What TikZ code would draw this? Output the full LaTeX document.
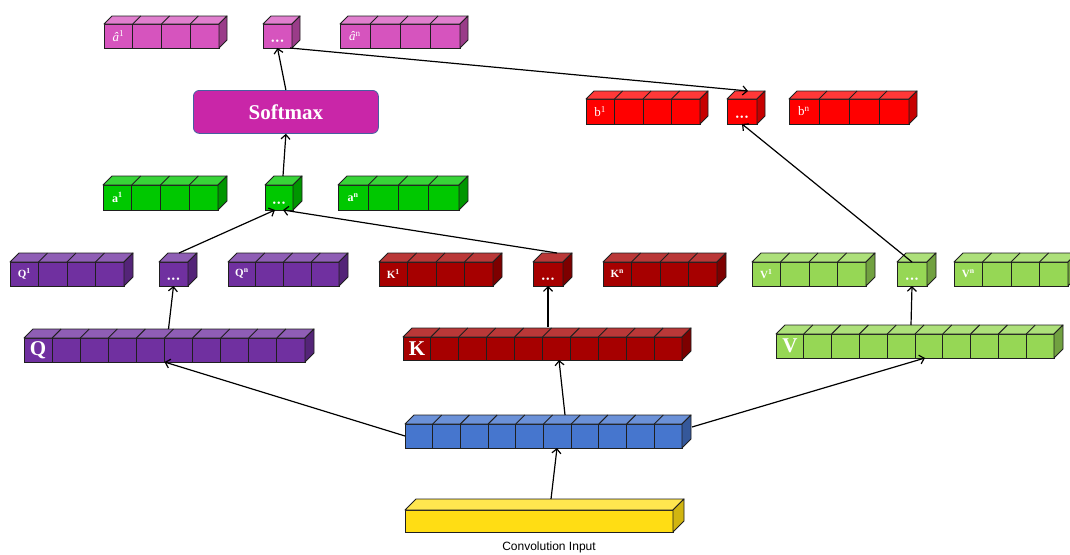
\documentclass[tikz,border=0pt]{standalone}
\usepackage{fontspec}
\setmainfont{Liberation Serif}
\newfontfamily\capsans{Liberation Sans}
\usetikzlibrary{arrows.meta,calc}

\definecolor{magF}{RGB}{214,84,190}
\colorlet{magT}{magF!75!white}
\colorlet{magS}{magF!72!black}
\definecolor{rdF}{RGB}{255,0,0}
\colorlet{rdT}{rdF!78!white}
\colorlet{rdS}{rdF!78!black}
\definecolor{grnF}{RGB}{0,200,0}
\colorlet{grnT}{grnF!78!white}
\colorlet{grnS}{grnF!75!black}
\definecolor{purF}{RGB}{112,48,160}
\colorlet{purT}{purF!78!white}
\colorlet{purS}{purF!75!black}
\definecolor{dkrF}{RGB}{166,0,0}
\colorlet{dkrT}{dkrF!78!white}
\colorlet{dkrS}{dkrF!75!black}
\definecolor{lgrF}{RGB}{150,215,85}
\colorlet{lgrT}{lgrF!78!white}
\colorlet{lgrS}{lgrF!75!black}
\definecolor{bluF}{RGB}{70,118,206}
\colorlet{bluT}{bluF!80!white}
\colorlet{bluS}{bluF!75!black}
\definecolor{yelF}{RGB}{255,221,20}
\colorlet{yelT}{yelF!75!white}
\colorlet{yelS}{yelF!82!black}
\definecolor{softF}{RGB}{201,38,168}
\definecolor{softB}{RGB}{70,95,160}

\tikzset{
  cubefront/.style={draw=black!88, line width=0.95pt, inner sep=0pt, outer sep=0pt, rectangle},
  cubeedge/.style={draw=black!88, line width=0.95pt, line join=round},
  cubelabel/.style={text=white, inner sep=0pt},
  dotlbl/.style={text=white, inner sep=0pt, font=\fontsize{10}{10}\selectfont},
  softbox/.style={draw=softB, line width=0.8pt, fill=softF, rounded corners=6pt, inner sep=0pt, text=white, font=\fontsize{21}{24}\selectfont\bfseries},
  conn/.style={draw=black, line width=1.2pt, -{Straight Barb[length=4.5pt,width=9pt]}},
  caption/.style={inner sep=0pt, font=\capsans\fontsize{12}{14}\selectfont}
}

\newcommand\threedots{\textbullet\hspace{1.2pt}\textbullet\hspace{1.2pt}\textbullet}

% name, x, ytop, width, height, ncells, depth, colour prefix, label
\newcommand\cubebar[9]{%
  \node[cubefront, fill=#8F, minimum width=#4pt, minimum height=#5pt, anchor=north west] (#1) at (#2,#3) {};
  \draw[cubeedge, fill=#8T] (#1.north west) -- ++(#7,-#7) -- ++(#4,0) -- (#1.north east) -- cycle;
  \draw[cubeedge, fill=#8S] (#1.north east) -- ++(#7,-#7) -- ++(0,#5) -- (#1.south east) -- cycle;
  \ifnum#6>1
    \pgfmathsetmacro\cbw{#4/#6}%
    \pgfmathtruncatemacro\cbn{#6-1}%
    \foreach \i in {1,...,\cbn}{%
      \pgfmathsetmacro\cbx{\i*\cbw}%
      \draw[cubeedge] ([xshift=\cbx pt]#1.north west) -- ([xshift=\cbx pt]#1.south west);
      \draw[cubeedge] ([xshift=\cbx pt]#1.north west) -- ++(#7,-#7);
    }%
  \fi
  \pgfmathsetmacro\cbh{#4/#6/2}%
  \node[cubelabel] at ([xshift=\cbh pt]#1.west) {#9};
}

\begin{document}
\begin{tikzpicture}[x=1pt,y=-1pt]
\useasboundingbox (0,0) rectangle (1070,554);

% magenta row
\cubebar{ah1}{104}{24}{115}{24}{4}{8}{mag}{\fontsize{13}{13}\selectfont\textit{â}\textsuperscript{1}}
\cubebar{md}{263}{24}{29}{24}{1}{8}{mag}{}
\cubebar{ahn}{340}{24}{120}{24}{4}{8}{mag}{\fontsize{13}{13}\selectfont\textit{â}\textsuperscript{n}}
\node[dotlbl] at ([yshift=6pt]md.south) {\threedots};

% softmax
\node[softbox, minimum width=185pt, minimum height=43pt, anchor=north west] (sm) at (193,90) {Softmax};

% red row
\cubebar{b1}{586}{99}{114}{25}{4}{8}{rd}{\fontsize{13}{13}\selectfont b\textsuperscript{1}}
\cubebar{rd}{727}{99}{30}{25}{1}{8}{rd}{}
\cubebar{bn}{789}{99}{120}{25}{4}{8}{rd}{\fontsize{13}{13}\selectfont b\textsuperscript{n}}
\node[dotlbl] at ([yshift=6pt]rd.south) {\threedots};

% green row
\cubebar{a1}{103}{185}{115}{25}{4}{9}{grn}{\fontsize{12}{12}\selectfont\bfseries a\textsuperscript{1}}
\cubebar{gd}{265}{185}{28}{25}{1}{9}{grn}{}
\cubebar{an}{338}{185}{121}{25}{4}{9}{grn}{\fontsize{12}{12}\selectfont\bfseries a\textsuperscript{n}}
\node[dotlbl] at ([yshift=6pt]gd.south) {\threedots};

% Q small
\cubebar{q1}{10}{262}{114}{24}{4}{9}{pur}{\fontsize{11}{11}\selectfont\bfseries Q\textsuperscript{1}}
\cubebar{qd}{159}{262}{29}{24}{1}{9}{pur}{}
\cubebar{qn}{228}{262}{111}{24}{4}{9}{pur}{\fontsize{11}{11}\selectfont\bfseries Q\textsuperscript{n}}
\node[dotlbl] at ([yshift=6pt]qd.south) {\threedots};

% K small
\cubebar{k1}{379}{262}{114}{24}{4}{9}{dkr}{\fontsize{11}{11}\selectfont\bfseries K\textsuperscript{1}}
\cubebar{kd}{533}{262}{30}{24}{1}{9}{dkr}{}
\cubebar{kn}{603}{262}{114}{24}{4}{9}{dkr}{\fontsize{11}{11}\selectfont\bfseries K\textsuperscript{n}}
\node[dotlbl] at ([yshift=6pt]kd.south) {\threedots};

% V small
\cubebar{v1}{752}{262}{114}{24}{4}{9}{lgr}{\fontsize{11}{11}\selectfont\bfseries V\textsuperscript{1}}
\cubebar{vd}{897}{262}{30}{24}{1}{9}{lgr}{}
\cubebar{vn}{954}{262}{114}{24}{4}{9}{lgr}{\fontsize{11}{11}\selectfont\bfseries V\textsuperscript{n}}
\node[dotlbl] at ([yshift=6pt]vd.south) {\threedots};

% big bars
\cubebar{Q}{24}{338}{281}{24}{10}{9}{pur}{\fontsize{21}{21}\selectfont\bfseries Q}
\cubebar{K}{403}{337}{279}{23}{10}{9}{dkr}{\fontsize{21}{21}\selectfont\bfseries K}
\cubebar{V}{776}{334}{278}{24}{10}{9}{lgr}{\fontsize{21}{21}\selectfont\bfseries V}

% embedding and input
\cubebar{emb}{405}{424}{277}{24}{10}{9}{blu}{}
\cubebar{inp}{405}{510}{268}{22}{1}{11}{yel}{}
\node[caption] (cap) at (549,547) {Convolution Input};

% connectors
\draw[conn] ([xshift=12pt,yshift=11pt]inp.north) -- ([xshift=13.5pt]emb.south);
\draw[conn] (emb.west) -- (Q.south);
\draw[conn] ([xshift=21.5pt,yshift=9pt]emb.north) -- ([xshift=16.5pt]K.south);
\draw[conn] ([xshift=10pt,yshift=9pt]emb.east) -- ([xshift=10pt]V.south);

\draw[conn] ([xshift=4pt,yshift=9pt]Q.north) -- (qd.south);
\draw[conn] ([xshift=5.5pt,yshift=10pt]K.north) -- (kd.south);
\draw[conn] ([xshift=-4pt,yshift=9pt]V.north) -- (vd.south);

\draw[conn] ([xshift=5.5pt,yshift=9pt]qd.north) -- ([xshift=-4pt]gd.south);
\draw[conn] ([xshift=9pt,yshift=9pt]kd.north) -- ([xshift=4pt]gd.south);
\draw[conn] ([xshift=4pt,yshift=9pt]gd.north) -- (sm.south);
\draw[conn] (sm.north) -- (md.south);
\draw[conn] ([xshift=-2pt]md.south east) -- ([xshift=6pt,yshift=8pt]rd.north);
\draw[conn] (vd.north) -- (rd.south);
\end{tikzpicture}
\end{document}
